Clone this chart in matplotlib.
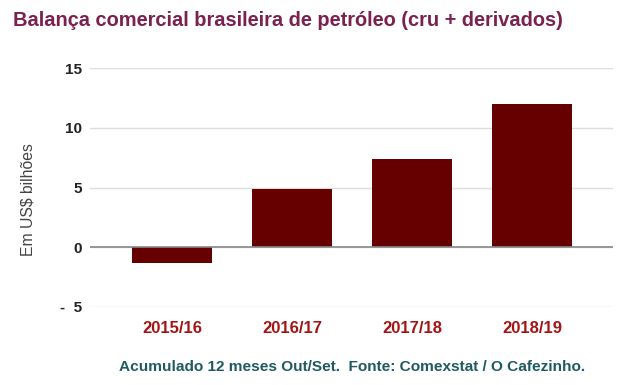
import matplotlib
matplotlib.use("Agg")
import matplotlib.pyplot as plt

plt.rcParams['font.family'] = ['Liberation Sans', 'DejaVu Sans']

categories = ["2015/16", "2016/17", "2017/18", "2018/19"]
values = [-1.35, 4.9, 7.4, 11.95]
yticks = [-5, 0, 5, 10, 15]
ytick_labels = ["-  5", "0", "5", "10", "15"]

W, H = 640, 385
fig = plt.figure(figsize=(W/100, H/100), dpi=100)
left, right = 90/W, 613/W
bottom, top = 1 - 307/H, 1 - 68/H
ax = fig.add_axes([left, bottom, right-left, top-bottom])

x = list(range(len(categories)))
ax.bar(x, values, width=0.66, color="#660000", zorder=3)
ax.set_xlim(-0.683, 3.675)
ax.set_ylim(-5, 15)
ax.set_yticks(yticks)
ax.set_yticklabels(ytick_labels, fontsize=11, fontweight="bold", color="#222222")
ax.set_xticks(x)
ax.set_xticklabels(categories, fontsize=12, fontweight="bold", color="#a31515")
ax.tick_params(axis="both", length=0)
ax.tick_params(axis="y", pad=5.5)
ax.tick_params(axis="x", pad=10)
for s in ax.spines.values():
    s.set_visible(False)
ax.grid(axis="y", color="#dddddd", linewidth=1, zorder=0)
ax.axhline(0, color="#888888", linewidth=1.2, zorder=4)

ax.set_ylabel("Em US$ bilhões", fontsize=11.3, color="#444444")
ax.yaxis.set_label_coords((36 - 90) / 523, (307 - 200) / 239)

fig.text(13/W, 1 - 20/H, "Balança comercial brasileira de petróleo (cru + derivados)",
         fontsize=14.4, fontweight="bold", color="#7a2150", ha="left", va="center")
fig.text(352/W, 1 - 367/H, "Acumulado 12 meses Out/Set.  Fonte: Comexstat / O Cafezinho.",
         fontsize=11.1, fontweight="bold", color="#1f5a60", ha="center", va="center")

fig.savefig("out.png", dpi=100, facecolor="white")
